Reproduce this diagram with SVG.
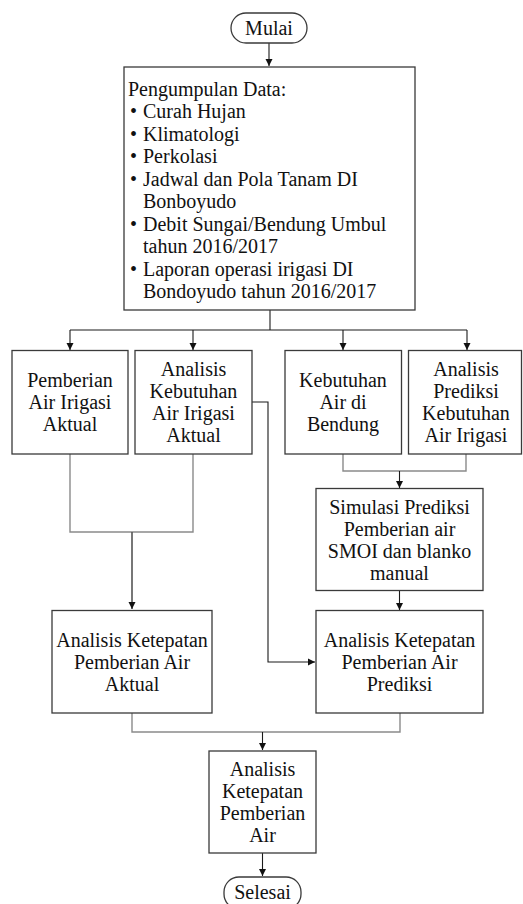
<svg xmlns="http://www.w3.org/2000/svg" width="523" height="904" viewBox="0 0 523 904">
<style>
text{font-family:"Liberation Serif","Times New Roman",serif;font-size:20px;fill:#111}
.c{text-anchor:middle}
.box{fill:#fff;stroke:#3a3a3a;stroke-width:1.3}
.dark{fill:none;stroke:#1a1a1a;stroke-width:1.1}
.gray{fill:none;stroke:#8a8a8a;stroke-width:1.4}
.darkgray{fill:none;stroke:#555;stroke-width:1.6}
</style>
<defs>
<marker id="ah" markerWidth="8" markerHeight="8" refX="7" refY="4" orient="auto" markerUnits="userSpaceOnUse">
<path d="M0,0.5 L7,4 L0,7.5 Z" fill="#111"/>
</marker>
</defs>
<rect width="523" height="904" fill="#fff"/>
<g id="connectors">
<line class="dark" x1="269" y1="43" x2="269" y2="66" marker-end="url(#ah)"/>
<polyline class="dark" points="270,310 270,330"/>
<polyline class="dark" points="70,330 467,330"/>
<line class="dark" x1="70" y1="330" x2="70" y2="350" marker-end="url(#ah)"/>
<line class="dark" x1="193" y1="330" x2="193" y2="350" marker-end="url(#ah)"/>
<line class="dark" x1="343" y1="330" x2="343" y2="350" marker-end="url(#ah)"/>
<line class="dark" x1="467" y1="330" x2="467" y2="350" marker-end="url(#ah)"/>
<polyline class="gray" points="70,454 70,532 193,532 193,454"/>
<line class="darkgray" x1="132" y1="532" x2="132" y2="609" marker-end="url(#ah)"/>
<polyline class="gray" points="343,454 343,471 466,471 466,454"/>
<line class="dark" x1="399.5" y1="471" x2="399.5" y2="488" marker-end="url(#ah)"/>
<line class="dark" x1="399.5" y1="591" x2="399.5" y2="610" marker-end="url(#ah)"/>
<polyline class="dark" points="252,402 268,402 268,662 315,662" marker-end="url(#ah)"/>
<polyline class="gray" points="132,713 132,732 400,732 400,713"/>
<line class="dark" x1="262.5" y1="732" x2="262.5" y2="750" marker-end="url(#ah)"/>
<line class="dark" x1="262.5" y1="853" x2="262.5" y2="876" marker-end="url(#ah)"/>
</g>
<g id="mulai">
<rect class="box" x="231" y="13" width="76" height="30" rx="15"/>
<text class="c" x="269" y="34.5">Mulai</text>
</g>
<g id="data">
<rect class="box" x="124" y="67" width="291" height="243"/>
<text x="128" y="96">Pengumpulan Data:</text>
<text x="130" y="118.4">•</text><text x="143" y="118.4">Curah Hujan</text>
<text x="130" y="140.9">•</text><text x="143" y="140.9">Klimatologi</text>
<text x="130" y="163.3">•</text><text x="143" y="163.3">Perkolasi</text>
<text x="130" y="185.8">•</text><text x="143" y="185.8">Jadwal dan Pola Tanam DI</text>
<text x="143" y="208.2">Bonboyudo</text>
<text x="130" y="230.7">•</text><text x="143" y="230.7">Debit Sungai/Bendung Umbul</text>
<text x="143" y="253.1">tahun 2016/2017</text>
<text x="130" y="275.6">•</text><text x="143" y="275.6">Laporan operasi irigasi DI</text>
<text x="143" y="298">Bondoyudo tahun 2016/2017</text>
</g>
<g id="pemberian-aktual">
<rect class="box" x="12" y="350.5" width="116" height="103.5"/>
<text class="c" x="70" y="387">Pemberian</text>
<text class="c" x="70" y="409">Air Irigasi</text>
<text class="c" x="70" y="431">Aktual</text>
</g>
<g id="kebutuhan-aktual">
<rect class="box" x="135" y="350.5" width="117" height="103.5"/>
<text class="c" x="193.5" y="376">Analisis</text>
<text class="c" x="193.5" y="398">Kebutuhan</text>
<text class="c" x="193.5" y="420">Air Irigasi</text>
<text class="c" x="193.5" y="442">Aktual</text>
</g>
<g id="kebutuhan-bendung">
<rect class="box" x="285" y="350.5" width="116.5" height="103.5"/>
<text class="c" x="343" y="387">Kebutuhan</text>
<text class="c" x="343" y="409">Air di</text>
<text class="c" x="343" y="431">Bendung</text>
</g>
<g id="prediksi-kebutuhan">
<rect class="box" x="408.5" y="350.5" width="113" height="103.5"/>
<text class="c" x="466" y="376">Analisis</text>
<text class="c" x="466" y="398">Prediksi</text>
<text class="c" x="466" y="420">Kebutuhan</text>
<text class="c" x="466" y="442">Air Irigasi</text>
</g>
<g id="simulasi">
<rect class="box" x="316" y="488.5" width="167" height="102"/>
<text class="c" x="399.5" y="514">Simulasi Prediksi</text>
<text class="c" x="399.5" y="536">Pemberian air</text>
<text class="c" x="399.5" y="558">SMOI dan blanko</text>
<text class="c" x="399.5" y="580">manual</text>
</g>
<g id="ketepatan-aktual">
<rect class="box" x="52" y="610.5" width="160" height="102.5"/>
<text class="c" x="132" y="647">Analisis Ketepatan</text>
<text class="c" x="132" y="669">Pemberian Air</text>
<text class="c" x="132" y="691">Aktual</text>
</g>
<g id="ketepatan-prediksi">
<rect class="box" x="316" y="610.5" width="167" height="102.5"/>
<text class="c" x="399.5" y="647">Analisis Ketepatan</text>
<text class="c" x="399.5" y="669">Pemberian Air</text>
<text class="c" x="399.5" y="691">Prediksi</text>
</g>
<g id="ketepatan">
<rect class="box" x="209" y="751" width="107" height="102"/>
<text class="c" x="262.5" y="776">Analisis</text>
<text class="c" x="262.5" y="798">Ketepatan</text>
<text class="c" x="262.5" y="820">Pemberian</text>
<text class="c" x="262.5" y="842">Air</text>
</g>
<g id="selesai">
<rect class="box" x="224" y="877" width="77" height="32" rx="15"/>
<text class="c" x="262.5" y="899">Selesai</text>
</g>
</svg>
